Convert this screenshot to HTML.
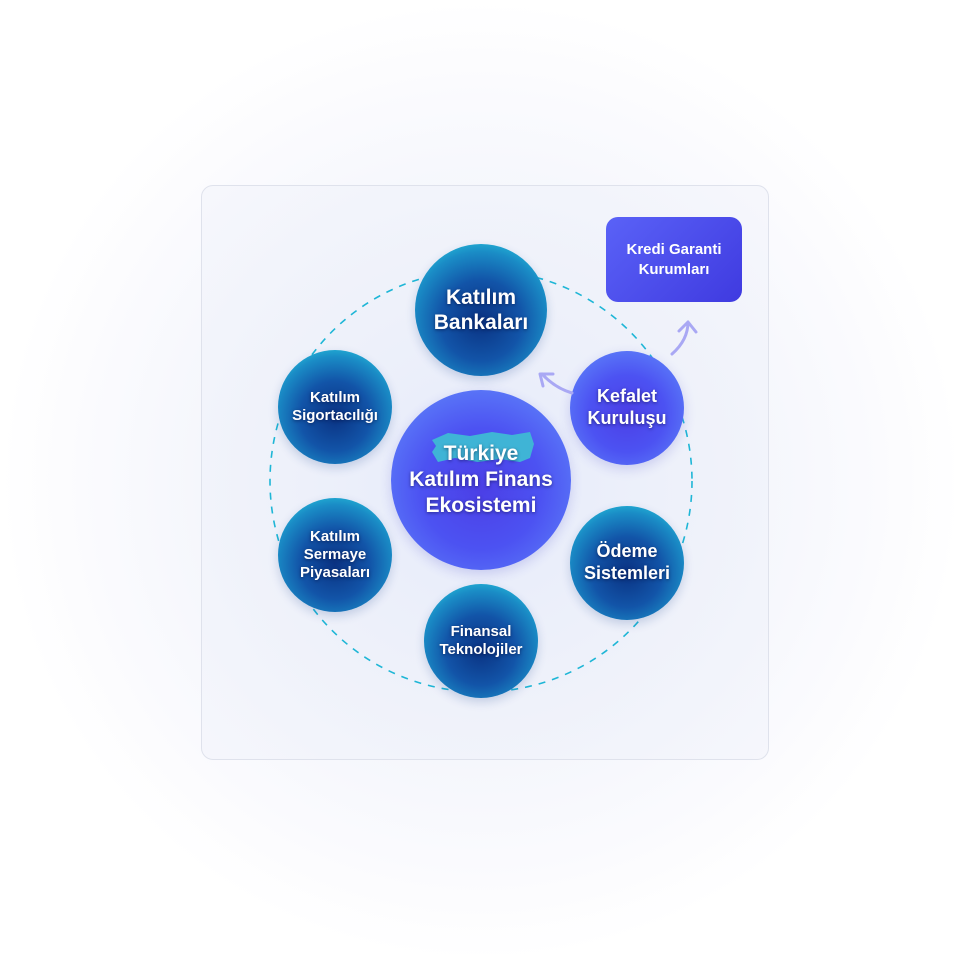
<!DOCTYPE html>
<html><head><meta charset="utf-8"><style>
body{margin:0;width:962px;height:962px;background:#fff;position:relative;overflow:hidden;font-family:"Liberation Sans",sans-serif}
.glow{position:absolute;left:0;top:0;width:962px;height:962px;background:radial-gradient(circle at 481px 481px,#eef1fb 0,#f4f6fc 260px,#fbfbfe 400px,#fff 480px)}
.card{position:absolute;left:201px;top:185px;width:566px;height:573px;border:1px solid #dfe2ec;border-radius:12px;background:radial-gradient(circle at 280px 300px,#e6ebfb 0,#eef1fa 200px,#f6f7fc 400px)}
.b{position:absolute;border-radius:50%;display:flex;align-items:center;justify-content:center;text-align:center;color:#fff;font-weight:bold;text-shadow:0 1px 3px rgba(0,0,40,.5);line-height:1.2}
.t{background:radial-gradient(circle at 50% 58%,#0a3282 0%,#1254a8 40%,#1a8cc6 68%,#28c8de 88%,#4ee2ea 100%);box-shadow:0 4px 10px rgba(20,60,140,.2)}
.p{background:radial-gradient(circle at 50% 55%,#4b3fe6 0%,#4c52f2 45%,#5b7af8 80%,#7aa8ff 100%);box-shadow:0 4px 12px rgba(60,60,200,.2)}
.box{position:absolute;left:606px;top:217px;width:136px;height:85px;border-radius:12px;background:linear-gradient(135deg,#5a62f7,#3f3ae0);color:#fff;font-weight:bold;font-size:15px;display:flex;align-items:center;justify-content:center;text-align:center;line-height:1.3}
svg{position:absolute;left:0;top:0}
</style></head><body>
<div class="glow"></div>
<div class="card"></div>
<svg width="962" height="962">
<circle cx="481" cy="481" r="211" fill="none" stroke="#1eb6d6" stroke-width="1.6" stroke-dasharray="7 7"/>
</svg>
<div class="box">Kredi Garanti<br>Kurumları</div>
<div class="b t" style="left:415px;top:244px;width:132px;height:132px;font-size:21px">Katılım<br>Bankaları</div>
<div class="b t" style="left:278px;top:350px;width:114px;height:114px;font-size:15px">Katılım<br>Sigortacılığı</div>
<div class="b t" style="left:278px;top:498px;width:114px;height:114px;font-size:15px">Katılım<br>Sermaye<br>Piyasaları</div>
<div class="b t" style="left:424px;top:584px;width:114px;height:114px;font-size:15px">Finansal<br>Teknolojiler</div>
<div class="b t" style="left:570px;top:506px;width:114px;height:114px;font-size:18px">Ödeme<br>Sistemleri</div>
<div class="b p" style="left:570px;top:351px;width:114px;height:114px;font-size:18px">Kefalet<br>Kuruluşu</div>
<div class="b p" style="left:391px;top:390px;width:180px;height:180px;"></div>
<svg width="962" height="962">
<path d="M432 440 L448 433 L470 436 L492 432 L512 435 L530 432 L534 444 L530 458 L520 462 L500 459 L478 462 L455 458 L438 462 L432 452 L436 446Z" fill="#3fb4d6"/>
<path d="M572 393 Q555 388 542 374 M540 374 l13 0 M540 374 l3 12" fill="none" stroke="#a9a8f4" stroke-width="3" stroke-linecap="round"/>
<path d="M672 354 Q688 340 688 322 M688 322 l-9 9 M688 322 l8 10" fill="none" stroke="#a9a8f4" stroke-width="3" stroke-linecap="round"/>
</svg>
<div class="b" style="left:391px;top:390px;width:180px;height:180px;font-size:21px;line-height:1.25">Türkiye<br>Katılım Finans<br>Ekosistemi</div>
</body></html>
